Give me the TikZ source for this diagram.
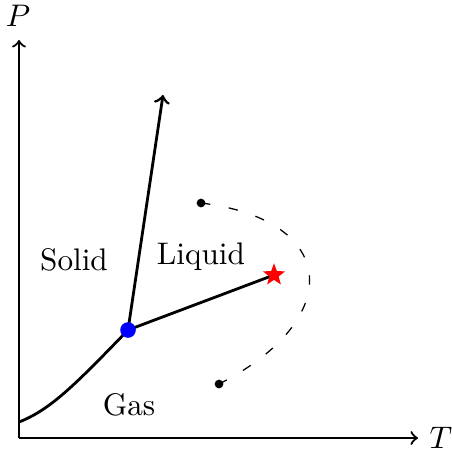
\documentclass[tikz,border=0pt]{standalone}
\usetikzlibrary{shapes.geometric}
\begin{document}
\begin{tikzpicture}[x=0.3205pt,y=-0.3205pt,
  axis/.style={line width=0.7pt,->},
  phase/.style={line width=0.9pt},
  lbl/.style={inner sep=0pt}]
\useasboundingbox (0,0) rectangle (452,454);
% axes
\coordinate (O) at (19,438);
\coordinate (Ptip) at (19,40);
\coordinate (Ttip) at (418,438);
\draw[axis] (O) -- (Ptip);
\draw[axis] (O) -- (Ttip);
\node[lbl] (P) at (18,16) {$P$};
\node[lbl] (T) at (441,438) {$T$};
% phase lines
\coordinate (start) at (19,422);
\coordinate (tp) at (128,330);
\coordinate (meltTip) at (163,95);
\coordinate (cp) at (274,275);
\draw[phase] (start) .. controls (50,410) and (75,385) .. (tp);
\draw[phase,->] (tp) -- (meltTip);
\draw[phase] (tp) -- (cp);
\node[circle,fill=blue,inner sep=0pt,minimum size=5pt] (tpdot) at (tp) {};
\node[star,star points=5,star point ratio=2.4,fill=red,inner sep=0pt,minimum size=7.5pt] (cpstar) at (cp) {};
% dashed path
\node[circle,fill=black,inner sep=0pt,minimum size=2.8pt] (d1) at (201,203) {};
\node[circle,fill=black,inner sep=0pt,minimum size=2.8pt] (d2) at (219,384) {};
\draw[loosely dashed] (d1.center) .. controls (340,220) and (345,320) .. (d2.center);
% labels
\node (solid) at (74,260) {Solid};
\node (liquid) at (201,257) {Liquid};
\node (gas) at (129,405) {Gas};
\end{tikzpicture}
\end{document}
